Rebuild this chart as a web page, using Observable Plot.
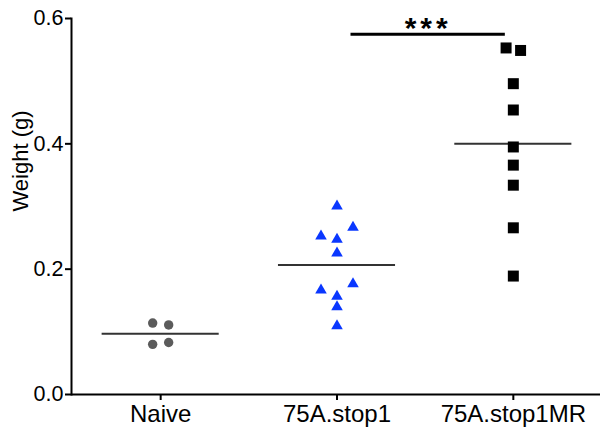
<!DOCTYPE html>
<html>
<head>
<meta charset="utf-8">
<script src="https://cdn.jsdelivr.net/npm/d3@7"></script>
<script src="https://cdn.jsdelivr.net/npm/@observablehq/plot@0.6"></script>
<style>
  body { margin: 0; background: #fff; }
  svg { display: block; }
</style>
</head>
<body>
<div id="chart"></div>
<script>
// Tumour weight per mouse, by treatment group
const groups = ["Naive", "75A.stop1", "75A.stop1MR"];
const naive = [0.114, 0.111, 0.080, 0.083];
const stop1 = [0.303, 0.255, 0.250, 0.269, 0.228, 0.169, 0.159, 0.179, 0.142, 0.112];
const stop1MR = [0.553, 0.549, 0.496, 0.454, 0.395, 0.366, 0.334, 0.266, 0.189];
const yTicks = [0, 0.2, 0.4, 0.6];
// significance bracket between the two treated groups
const sigPair = [1, 2];
const sigLevel = 0.575;
const sigLabel = "***";

const W = 600, H = 435;
const M = {top: 18, right: 0, bottom: 41, left: 71};
const yDomain = [0, 0.6];
const xRange = [72, 601];
const pxPerUnitY = (H - M.top - M.bottom) / (yDomain[1] - yDomain[0]);
const pxPerGroup = (xRange[1] - xRange[0]) / groups.length;

// Column-scatter layout: points whose symbols would overlap vertically
// are spread side by side, centred on the group position.
function scatter(values, gi, symbolPx, stepPx) {
  const order = d3.range(values.length).sort((a, b) => values[b] - values[a]);
  const clusters = [];
  let cur = [];
  order.forEach((k, j) => {
    if (j > 0 && (values[order[j - 1]] - values[k]) * pxPerUnitY >= symbolPx) {
      clusters.push(cur); cur = [];
    }
    cur.push(k);
  });
  clusters.push(cur);
  const off = new Array(values.length).fill(0);
  for (const c of clusters) {
    c.sort((a, b) => a - b);
    c.forEach((k, m) => off[k] = (m - (c.length - 1) / 2) * stepPx);
  }
  return values.map((v, k) => ({group: groups[gi], value: v, x: gi + off[k] / pxPerGroup}));
}

const ptsNaive = scatter(naive, 0, 10, 16);
const ptsStop1 = scatter(stop1, 1, 10, 16);
const ptsMR = scatter(stop1MR, 2, 11, 14.5);

const means = [naive, stop1, stop1MR].map((v, i) => ({i, mean: d3.mean(v)}));
const halfLine = 0.332;

const plot = Plot.plot({
  width: W,
  height: H,
  marginTop: M.top,
  marginRight: M.right,
  marginBottom: M.bottom,
  marginLeft: M.left,
  style: {fontFamily: "'Liberation Sans', Arial, sans-serif", color: "#000", background: "#fff"},
  x: {type: "linear", domain: [-0.5, 2.5], range: xRange},
  y: {domain: yDomain},
  marks: [
    Plot.axisY({ticks: yTicks, tickFormat: d3.format(".1f"), tickSize: 6, tickPadding: 2,
      fontSize: 21.5, strokeWidth: 2, label: null}),
    Plot.axisX({ticks: [0, 1, 2], tickFormat: i => groups[i], tickSize: 6, tickPadding: 4,
      fontSize: 24, strokeWidth: 2, label: null}),
    Plot.frame({anchor: "left", strokeWidth: 2}),
    Plot.ruleY([0], {strokeWidth: 2}),
    Plot.text(["Weight (g)"], {frameAnchor: "left", rotate: -90, dx: -51, dy: 5, fontSize: 22}),
    Plot.ruleY(means, {y: "mean", x1: d => d.i - halfLine, x2: d => d.i + halfLine,
      stroke: "#333", strokeWidth: 2}),
    Plot.dot(ptsNaive, {x: "x", y: "value", r: 4.7, fill: "#5b5b5b", stroke: "none"}),
    Plot.dot(ptsStop1, {x: "x", y: "value", symbol: "triangle", r: 4.3, dy: 1.5,
      fill: "#0a37ff", stroke: "none"}),
    Plot.dot(ptsMR, {x: "x", y: "value", symbol: "square", r: 6.2, fill: "#000", stroke: "none"}),
    Plot.ruleY([sigLevel], {x1: sigPair[0], x2: sigPair[1], insetLeft: 14, insetRight: 8,
      strokeWidth: 3}),
    Plot.text([sigLabel], {x: (sigPair[0] + sigPair[1]) / 2, y: sigLevel, lineAnchor: "top",
      dy: -17, dx: 3, fontSize: 30, fontWeight: "bold"})
  ]
});

// widen the significance stars
d3.select(plot).selectAll("text")
  .filter(function() { return this.textContent === sigLabel; })
  .attr("letter-spacing", 4);

document.getElementById("chart").append(plot);
</script>
</body>
</html>
